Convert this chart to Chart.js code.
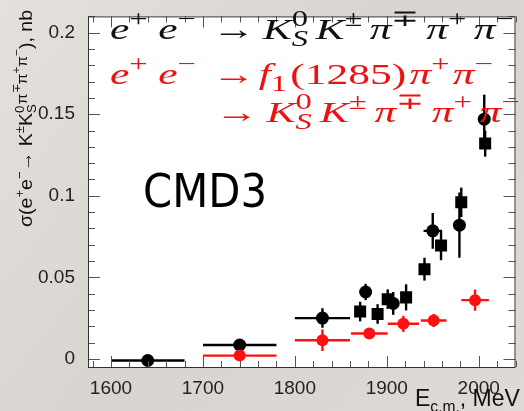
<!DOCTYPE html>
<html>
<head>
<meta charset="utf-8">
<script src="https://cdn.jsdelivr.net/npm/chart.js@4.4.0/dist/chart.umd.min.js"></script>
<style>
  html, body { margin: 0; padding: 0; background: #dcd9d4; }
  #wrap { width: 524px; height: 411px; }
</style>
</head>
<body>
<div id="wrap"><canvas id="cmd3" width="524" height="411"></canvas></div>
<script>
// black circles: e+e- -> KsK pi pi pi (points with errors)
const blkCircE    = [1640, 1740, 1830, 1877, 1907, 1950, 1979, 2006]
const blkCircSig  = [-0.001, 0.0085, 0.025, 0.041, 0.034, 0.0785, 0.082, 0.147]
const blkCircXErr = [40, 40, 30, 0, 0, 10, 0, 0]
const blkCircYErr = [0.001, 0.002, 0.006, 0.005, 0.007, 0.011, 0.02, 0.015]

// black squares
const blkSqE    = [1871, 1890, 1901, 1921, 1941, 1959, 1981, 2007]
const blkSqSig  = [0.029, 0.0275, 0.0366, 0.0377, 0.055, 0.0695, 0.096, 0.132]
const blkSqYErr = [0.006, 0.006, 0.006, 0.008, 0.007, 0.009, 0.009, 0.008]

// red circles: e+e- -> f1(1285) pi+ pi-
const redE    = [1740, 1830, 1881, 1918, 1951, 1996]
const redSig  = [0.002, 0.0114, 0.0155, 0.0215, 0.0235, 0.036]
const redXErr = [40, 30, 20, 17, 14, 15]
const redYErr = [0.001, 0.0066, 0.002, 0.005, 0.004, 0.0065]

const xTicks = [1600, 1700, 1800, 1900, 2000]
const yTicks = [0, 0.05, 0.1, 0.15, 0.2]
const yTickLabels = ['0', '0.05', '0.1', '0.15', '0.2']

const pts = (xs, ys) => xs.map((x, i) => ({ x: x, y: ys[i] }))

// lay out a line of math-ish text (sup / sub / stacked sub)
function layoutRich(ctx, segs, size, family) {
  let x = 0, lastStart = 0
  const items = []
  segs.forEach(s => {
    const fs = size * (s.k || 1)
    const font = (s.it ? 'italic ' : '') + fs.toFixed(1) + 'px ' + family
    ctx.font = font
    const w = ctx.measureText(s.t).width
    const sx = s.stack ? lastStart : x
    items.push({ t: s.t, font: font, x: sx, dy: (s.dy || 0) * size, stack: !!s.stack, base: !s.k })
    if (s.stack) x = Math.max(x, sx + w)
    else { lastStart = sx; x = sx + w }
  })
  return { items: items, width: x }
}

// draw it; stretch up to maxScale and spread the rest of targetW before base glyphs
function drawRich(ctx, segs, x0, y0, size, family, color, targetW, maxScale) {
  const lay = layoutRich(ctx, segs, size, family)
  let sc = 1, gap = 0
  if (targetW) {
    sc = Math.min(targetW / lay.width, maxScale || 1.2)
    const gaps = lay.items.filter(it => it.base).length - 1
    gap = gaps > 0 ? (targetW - lay.width * sc) / gaps / sc : 0
  }
  ctx.save()
  ctx.translate(x0, y0)
  ctx.scale(sc, 1)
  ctx.fillStyle = color
  ctx.textBaseline = 'alphabetic'
  ctx.textAlign = 'left'
  let n = -1
  lay.items.forEach(it => {
    if (it.base) n++
    ctx.font = it.font
    ctx.fillText(it.t, it.x + Math.max(n, 0) * gap, it.dy)
  })
  ctx.restore()
}

const sup = (t, it) => ({ t: t, it: it, k: 0.75, dy: -0.42 })
const sub = (t, it, stack) => ({ t: t, it: it, k: 0.75, dy: 0.24, stack: stack })

const lineEE = [{ t: 'e', it: true }, sup('+'), { t: 'e', it: true }, sup('\u2212')]
const lineKs = [
  { t: '\u2192' }, { t: 'K', it: true }, sup('0'), sub('S', true, true),
  { t: 'K', it: true }, sup('\u00b1'), { t: '\u03c0', it: true }, sup('\u2213'),
  { t: '\u03c0', it: true }, sup('+'), { t: '\u03c0', it: true }, sup('\u2212')
]
const lineF1 = [
  { t: '\u2192' }, { t: 'f', it: true }, sub('1'), { t: '(1285)' },
  { t: '\u03c0', it: true }, sup('+'), { t: '\u03c0', it: true }, sup('\u2212')
]

const yTitle = [
  { t: '\u03c3(e' }, { t: '+', k: 0.68, dy: -0.42 }, { t: 'e' }, { t: '\u2212', k: 0.68, dy: -0.42 },
  { t: '\u2192 K' }, { t: '\u00b1', k: 0.68, dy: -0.42 },
  { t: 'K' }, { t: '0', k: 0.68, dy: -0.42 }, { t: 'S', k: 0.68, dy: 0.22, stack: true },
  { t: '\u03c0', k: 0.8, dy: -0.25 }, { t: '\u2213', k: 0.6, dy: -0.62 },
  { t: '\u03c0', k: 0.8, dy: -0.25 }, { t: '+', k: 0.6, dy: -0.62 },
  { t: '\u03c0', k: 0.8, dy: -0.25 }, { t: '\u2212', k: 0.6, dy: -0.62 },
  { t: '), nb' }
]

const backdrop = {
  id: 'backdrop',
  beforeDraw(chart) {
    const ctx = chart.ctx, a = chart.chartArea
    ctx.save()
    const g = ctx.createLinearGradient(0, 0, chart.width, chart.height)
    g.addColorStop(0, '#e4e1dc')
    g.addColorStop(0.5, '#d8d5d0')
    g.addColorStop(1, '#dedbd6')
    ctx.fillStyle = g
    ctx.fillRect(0, 0, chart.width, chart.height)
    ctx.fillStyle = '#ffffff'
    ctx.fillRect(a.left, a.top, a.right - a.left, a.bottom - a.top)
    ctx.restore()
  }
}

const errorBars = {
  id: 'errorBars',
  beforeDatasetsDraw(chart) {
    const ctx = chart.ctx, xs = chart.scales.x, ys = chart.scales.y
    ctx.save()
    chart.data.datasets.forEach(ds => {
      ctx.strokeStyle = ds.barColor
      ctx.lineWidth = 2.4
      ds.data.forEach((p, i) => {
        const px = xs.getPixelForValue(p.x), py = ys.getPixelForValue(p.y)
        const xe = ds.xErr ? ds.xErr[i] : 0
        const ye = ds.yErr ? ds.yErr[i] : 0
        ctx.beginPath()
        if (xe) {
          ctx.moveTo(xs.getPixelForValue(p.x - xe), py)
          ctx.lineTo(xs.getPixelForValue(p.x + xe), py)
        }
        if (ye) {
          ctx.moveTo(px, ys.getPixelForValue(p.y - ye))
          ctx.lineTo(px, ys.getPixelForValue(p.y + ye))
        }
        ctx.stroke()
      })
    })
    ctx.restore()
  }
}

const frame = {
  id: 'frame',
  afterDraw(chart) {
    const ctx = chart.ctx, a = chart.chartArea, xs = chart.scales.x, ys = chart.scales.y
    ctx.save()
    ctx.strokeStyle = '#555'
    ctx.lineWidth = 1
    ctx.beginPath()
    for (let v = 1580; v <= 2040; v += 20) {
      const px = Math.round(xs.getPixelForValue(v)) + 0.5
      const len = v % 100 === 0 ? 11 : 6
      ctx.moveTo(px, a.bottom); ctx.lineTo(px, a.bottom - len)
      ctx.moveTo(px, a.top); ctx.lineTo(px, a.top + len)
    }
    for (let k = 0; k <= 21; k++) {
      const py = Math.round(ys.getPixelForValue(k / 100)) + 0.5
      const len = k % 5 === 0 ? 12 : 7
      ctx.moveTo(a.left, py); ctx.lineTo(a.left + len, py)
      ctx.moveTo(a.right, py); ctx.lineTo(a.right - len, py)
    }
    ctx.stroke()
    ctx.strokeStyle = '#333'
    ctx.strokeRect(a.left + 0.5, a.top + 0.5, a.right - a.left - 1, a.bottom - a.top)
    ctx.restore()

    // legend text inside the plot
    const serif = '"Liberation Serif", serif'
    drawRich(ctx, lineEE, 110, 39, 30, serif, '#111', 86, 1.45)
    drawRich(ctx, lineKs, 212, 39, 30, serif, '#111', 302, 1.45)
    drawRich(ctx, lineEE, 110, 84, 30, serif, '#ee1111', 86, 1.45)
    drawRich(ctx, lineF1, 212, 84, 30, serif, '#ee1111', 281, 1.45)
    drawRich(ctx, lineKs, 215, 122, 30, serif, '#ee1111', 305, 1.45)

    // CMD3 label
    ctx.save()
    ctx.font = '46px "DejaVu Sans", sans-serif'
    const cw = ctx.measureText('CMD3').width
    ctx.translate(143, 207)
    ctx.scale(124 / cw, 1)
    ctx.fillStyle = '#000'
    ctx.fillText('CMD3', 0, 0)
    ctx.restore()

    // y title, rotated
    ctx.save()
    ctx.translate(32, 227)
    ctx.rotate(-Math.PI / 2)
    drawRich(ctx, yTitle, 0, 0, 19, '"Liberation Sans", sans-serif', '#111', 217, 1.15)
    ctx.restore()

    // x title
    drawRich(ctx, [{ t: 'E' }, { t: 'c.m.', k: 0.68, dy: 0.24 }, { t: ', MeV' }],
      415, 406, 23, '"Liberation Sans", sans-serif', '#111')
  }
}

const ctx = document.getElementById('cmd3')
new Chart(ctx, {
  type: 'scatter',
  data: {
    datasets: [
      {
        label: 'f1(1285) pi+ pi-',
        data: pts(redE, redSig),
        xErr: redXErr, yErr: redYErr, barColor: '#ff1010',
        pointStyle: 'circle', pointRadius: 6, backgroundColor: '#ff1010', borderWidth: 0
      },
      {
        label: 'KsK pi pi pi (squares)',
        data: pts(blkSqE, blkSqSig),
        yErr: blkSqYErr, barColor: '#000',
        pointStyle: 'rect', pointRadius: 8.5, backgroundColor: '#000', borderWidth: 0
      },
      {
        label: 'KsK pi pi pi (circles)',
        data: pts(blkCircE, blkCircSig),
        xErr: blkCircXErr, yErr: blkCircYErr, barColor: '#000',
        pointStyle: 'circle', pointRadius: 6.5, backgroundColor: '#000', borderWidth: 0
      }
    ]
  },
  options: {
    responsive: false,
    animation: false,
    devicePixelRatio: 1,
    layout: { padding: { top: 8, right: 1, left: 0, bottom: 0 } },
    plugins: { legend: { display: false }, tooltip: { enabled: false } },
    scales: {
      x: {
        type: 'linear', min: 1575, max: 2040,
        grid: { display: false }, border: { display: false },
        afterBuildTicks: s => { s.ticks = xTicks.map(v => ({ value: v })) },
        afterFit: s => { s.height = 44 },
        ticks: {
          color: '#222', padding: 2, maxRotation: 0,
          font: { family: '"Liberation Sans", sans-serif', size: 19 },
          callback: v => String(v)
        }
      },
      y: {
        type: 'linear', min: -0.005, max: 0.21,
        grid: { display: false }, border: { display: false },
        afterBuildTicks: s => { s.ticks = yTicks.map(v => ({ value: v })) },
        afterFit: s => { s.width = 88 },
        ticks: {
          color: '#222', padding: 5,
          font: { family: '"Liberation Sans", sans-serif', size: 19 },
          callback: v => yTickLabels[yTicks.indexOf(v)]
        }
      }
    }
  },
  plugins: [backdrop, errorBars, frame]
})
</script>
</body>
</html>
